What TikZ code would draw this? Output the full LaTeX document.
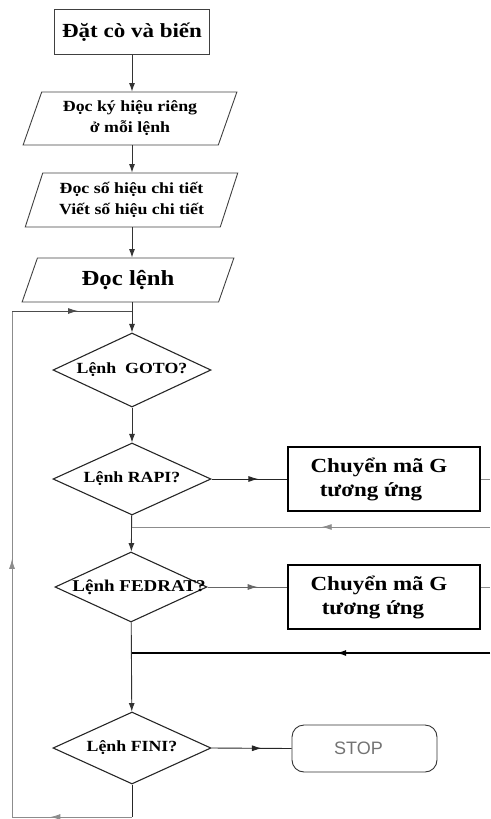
\documentclass[tikz,border=0pt]{standalone}
\usepackage{fontspec}
\setmainfont[FakeStretch=1.15]{Liberation Serif}
\newfontfamily\stopfont{Liberation Sans}
\usetikzlibrary{arrows.meta,shapes.geometric,decorations.markings}

\newcommand{\fs}[2]{\fontsize{#1}{#2}\selectfont}

\begin{document}
\begin{tikzpicture}[x=1pt,y=-1pt,
  line width=0.9pt,
  tip/.style={-{Latex[length=8.5pt,width=6pt]}},
  midarrow/.style={postaction={decorate},decoration={markings,
    mark=at position #1 with {\arrow{Latex[length=10pt,width=6pt]}}}},
  basebox/.style={draw=black!75,line width=0.9pt,inner sep=0pt,align=center,
    font=\bfseries},
  io/.style={basebox,trapezium,trapezium stretches=true,
    trapezium left angle=68,trapezium right angle=112},
  decision/.style={draw=black!85,diamond,line width=1.1pt,inner sep=0pt},
  dtext/.style={font=\bfseries\fs{15.5}{17},inner sep=0pt},
  process/.style={basebox,rectangle,draw=black,line width=1.8pt,
    minimum width=192pt,minimum height=64pt,
    font=\bfseries\fs{20}{24}},
  terminal/.style={draw=black!80,line width=0.9pt,rounded corners=12pt,
    minimum width=145pt,minimum height=47pt,
    font=\stopfont\fs{18}{20},text=black!55},
  faint/.style={draw=black!45,line width=0.9pt}
]
\useasboundingbox (0,0) rectangle (490,819);

% initial steps
\node[basebox,rectangle,minimum width=155pt,minimum height=45pt,
  font=\bfseries\fs{20}{22}] (init) at (132,32)
  {Đặt cò và biến};
\node[io,minimum width=214pt,minimum height=53pt,
  font=\bfseries\fs{15.5}{21}] (readsym) at (130,118.5)
  {Đọc ký hiệu riêng\\ở mỗi lệnh};
\node[io,minimum width=213pt,minimum height=54pt,
  font=\bfseries\fs{15.5}{21}] (readnum) at (131.5,200)
  {Đọc số hiệu chi tiết\\Viết số hiệu chi tiết};
\node[io,minimum width=212pt,minimum height=44pt,
  font=\bfseries\fs{21.5}{24}] (readcmd) at (128,280)
  {Đọc lệnh};

% decisions (text laid over the shape, which keeps its own size)
\node[decision,minimum width=158pt,minimum height=74pt,
  label={[dtext]center:{Lệnh\ \ GOTO?}}] (goto) at (132,370) {};
\node[decision,minimum width=158pt,minimum height=72pt,
  label={[dtext]center:{Lệnh RAPI?}}] (rapi) at (132,479) {};
\node[decision,minimum width=152pt,minimum height=70pt,
  label={[dtext,font=\bfseries\fs{16.5}{17},xshift=8pt]center:{Lệnh FEDRAT?}}]
  (fedrat) at (131,587) {};
\node[decision,minimum width=158pt,minimum height=72pt,
  label={[dtext]center:{Lệnh FINI?}}] (fini) at (132,748) {};

% conversion boxes and end
\node[process] (convA) at (384,479)
  {\hspace*{-10pt}Chuyển mã G\\\hspace*{-26pt}tương ứng};
\node[process] (convB) at (384,597)
  {\hspace*{-10pt}Chuyển mã G\\\hspace*{-22pt}tương ứng};
\node[terminal] (stop) at (364.5,748.5) {\hspace*{-12pt}STOP};

% helper points
\coordinate (loopTop) at (12,311);
\coordinate (loopIn) at (132,311);
\coordinate (loopBot) at (12,817);
\coordinate (finiOut) at (132,817);
\coordinate (joinA) at (132,527);
\coordinate (joinB) at (132,653);
\coordinate (edgeA) at (490,527);
\coordinate (edgeB) at (490,653);
\coordinate (stubA) at (490,479);
\coordinate (stubB) at (490,587);

% main flow
\draw[tip,draw=black!80] (init.south) -- (init.south |- readsym.north);
\draw[tip,draw=black!80] (init.south |- readsym.south) -- (init.south |- readnum.north);
\draw[tip,draw=black!80] (init.south |- readnum.south) -- (init.south |- readcmd.north);
\draw[tip,draw=black!80] (init.south |- readcmd.south) -- (goto.north);
\draw[tip,draw=black!80] (goto) -- (rapi);
\draw[tip,draw=black!80] (rapi) -- (fedrat);
\draw[tip,draw=black!80] (fedrat) -- (fini);

% branches to the right
\draw[midarrow=0.62,draw=black!85] (rapi.east) -- (convA.west);
\draw[faint] (convA.east) -- (stubA);
\draw[faint,midarrow=0.47] (edgeA) -- (joinA);
\draw[midarrow=0.63,draw=black!60] (fedrat.east) -- (fedrat.east -| convB.west);
\draw[faint] (convB.east |- stubB) -- (stubB);
\draw[line width=1.6pt,midarrow=0.43] (edgeB) -- (joinB);
\draw[midarrow=0.63,draw=black!85] (fini.east) -- (stop.west);

% loop back to the top
\draw[draw=black!85] (fini.south) -- (finiOut);
\draw[faint,midarrow=0.68] (finiOut) -- (loopBot);
\draw[faint,midarrow=0.51] (loopBot) -- (loopTop);
\draw[draw=black!70,midarrow=0.55] (loopTop) -- (loopIn);
\end{tikzpicture}
\end{document}
